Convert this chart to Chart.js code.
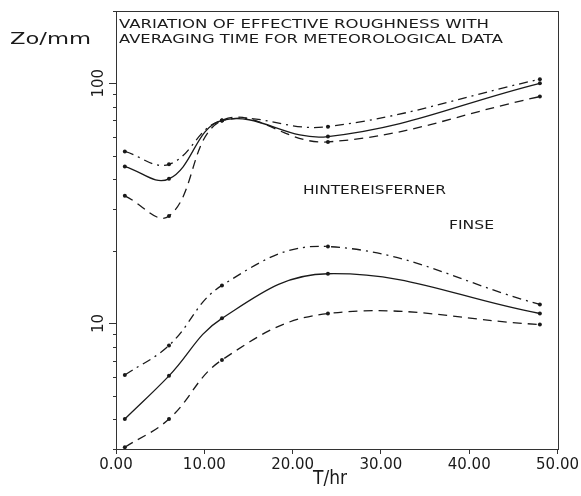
<!DOCTYPE html>
<html><head><meta charset="utf-8">
<script src="https://cdn.jsdelivr.net/npm/chart.js@4"></script>
<style>html,body{margin:0;padding:0;background:#fff}canvas{display:block}</style>
</head><body>
<canvas id="c" width="581" height="496"></canvas>
<script>
const hours = [1, 6, 12, 24, 48];
const hintUpper = [52, 46, 70, 66, 104];
const hintMid = [45, 40, 70, 60, 100];
const hintLower = [34, 28, 70, 57, 88];
const finseUpper = [6.1, 8.1, 14.4, 20.9, 12.0];
const finseMid = [4.0, 6.05, 10.5, 16.1, 11.0];
const finseLower = [3.05, 4.0, 7.05, 11.0, 9.9];
const xTicks = [0, 10, 20, 30, 40, 50];
const yLabelTicks = [10, 100];
const yMinorTicks = [3, 4, 5, 6, 7, 8, 9, 20, 30, 40, 50, 60, 70, 80, 90, 200];
const titleLines = ['VARIATION OF EFFECTIVE ROUGHNESS WITH', 'AVERAGING TIME FOR METEOROLOGICAL DATA'];
const yAxisLabel = 'Zo/mm';
const xAxisLabel = 'T/hr';
const seriesLabels = ['HINTEREISFERNER', 'FINSE'];

const FAMILY = '"DejaVu Sans", sans-serif';
const INK = '#1a1a1a';
const DASH_DOT = [9, 5, 2, 5];
const DASH = [9, 6];

function mk(vals, dash) {
  return {
    data: hours.map((h, i) => ({x: h, y: vals[i]})),
    borderColor: INK, backgroundColor: INK,
    borderWidth: 1.3, borderDash: dash,
    pointRadius: 2, pointBackgroundColor: INK, pointBorderWidth: 0,
    tension: 0.4, clip: false, fill: false
  };
}

function fitText(ctx, text, x, y, w, size) {
  ctx.save();
  ctx.font = size + 'px ' + FAMILY;
  ctx.textAlign = 'left';
  ctx.textBaseline = 'middle';
  const m = ctx.measureText(text).width;
  ctx.translate(x, y);
  ctx.scale(w / m, 1);
  ctx.fillStyle = INK;
  ctx.fillText(text, 0, 0);
  ctx.restore();
}

const decor = {
  id: 'decor',
  afterDraw(chart) {
    const ctx = chart.ctx, a = chart.chartArea, ys = chart.scales.y;
    ctx.save();
    ctx.strokeStyle = '#333';
    ctx.lineWidth = 1;
    ctx.setLineDash([]);
    ctx.strokeRect(Math.round(a.left) + 0.5, Math.round(a.top) + 0.5,
                   Math.round(a.right - a.left), Math.round(a.bottom - a.top));
    ctx.beginPath();
    yMinorTicks.forEach(v => {
      const p = Math.round(ys.getPixelForValue(v)) + 0.5;
      ctx.moveTo(a.left - 3, p); ctx.lineTo(a.left, p);
    });
    yLabelTicks.forEach(v => {
      const p = Math.round(ys.getPixelForValue(v)) + 0.5;
      ctx.moveTo(a.left - 7, p); ctx.lineTo(a.left, p);
    });
    ctx.stroke();
    ctx.fillStyle = INK;
    ctx.font = '15px ' + FAMILY;
    ctx.textAlign = 'center';
    ctx.textBaseline = 'middle';
    yLabelTicks.forEach(v => {
      const p = ys.getPixelForValue(v);
      ctx.save();
      ctx.translate(99, p);
      ctx.rotate(-Math.PI / 2);
      ctx.fillText(String(v), 0, 0);
      ctx.restore();
    });
    ctx.restore();
    fitText(ctx, titleLines[0], 119, 25, 370, 12.5);
    fitText(ctx, titleLines[1], 119, 40, 384, 12.5);
    fitText(ctx, yAxisLabel, 10, 40, 81, 16);
    fitText(ctx, seriesLabels[0], 303, 191, 143, 11.5);
    fitText(ctx, seriesLabels[1], 449, 226, 45, 11.5);
    fitText(ctx, xAxisLabel, 313, 479, 34, 19);
  }
};

new Chart(document.getElementById('c'), {
  type: 'line',
  data: {
    datasets: [
      mk(hintUpper, DASH_DOT), mk(hintMid, []), mk(hintLower, DASH),
      mk(finseUpper, DASH_DOT), mk(finseMid, []), mk(finseLower, DASH)
    ]
  },
  plugins: [decor],
  options: {
    responsive: false,
    animation: false,
    events: [],
    layout: {padding: {top: 11, right: 0, left: 0, bottom: 0}},
    plugins: {legend: {display: false}, tooltip: {enabled: false}, title: {display: false}},
    scales: {
      x: {
        type: 'linear', min: 0, max: 50,
        afterBuildTicks: s => { s.ticks = xTicks.map(v => ({value: v})); },
        afterFit: s => { s.height = 47; },
        ticks: {
          callback: v => Number(v).toFixed(2),
          font: {family: FAMILY, size: 15}, color: INK, padding: 2, maxRotation: 0, autoSkip: false
        },
        grid: {drawOnChartArea: false, tickLength: 5, color: '#333'},
        border: {color: '#333'}
      },
      y: {
        type: 'logarithmic', min: 3, max: 200,
        afterBuildTicks: s => { s.ticks = yLabelTicks.map(v => ({value: v})); },
        afterFit: s => { s.width = 116; },
        ticks: {display: false},
        grid: {display: false},
        border: {color: '#333'}
      }
    }
  }
});
</script>
</body></html>
